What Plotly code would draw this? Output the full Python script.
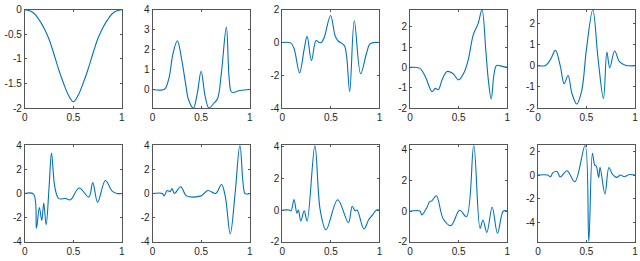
import plotly.graph_objects as go

# ---- data (control points, drawn with spline lines) ----
x1 = [0, 0.05, 0.1, 0.15, 0.2, 0.25, 0.3, 0.35, 0.4, 0.45, 0.5, 0.55, 0.6, 0.65, 0.7, 0.75, 0.8, 0.85, 0.9, 0.95, 1]
y1 = [0, -0.02, -0.08, -0.21, -0.38, -0.6, -0.9, -1.22, -1.5, -1.74, -1.87, -1.74, -1.5, -1.22, -0.9, -0.6, -0.38, -0.21, -0.08, -0.02, 0]

x2 = [0, 0.1, 0.13, 0.17, 0.21, 0.255, 0.3, 0.34, 0.37, 0.42, 0.46, 0.5, 0.54, 0.58, 0.63, 0.67, 0.71, 0.76, 0.79, 0.815, 0.9, 1]
y2 = [0, -0.02, 0.05, 0.6, 1.8, 2.45, 1.5, 0.3, -0.5, -0.93, -0.2, 0.92, -0.3, -0.93, -0.7, -0.45, 0.9, 3.13, 0.5, -0.13, -0.05, 0]

x3 = [0, 0.085, 0.12, 0.177, 0.225, 0.255, 0.3, 0.347, 0.38, 0.4, 0.43, 0.497, 0.544, 0.578, 0.612, 0.64, 0.663, 0.694, 0.741, 0.806, 0.867, 0.9, 0.94, 1]
y3 = [0, -0.02, -0.35, -1.85, -0.4, 0.38, -1.1, 0.12, 0.0, 0.0, 0.3, 1.65, 0.4, 0.08, -0.05, -0.2, -0.9, -3.0, 1.33, -1.9, -0.65, -0.1, 0, 0]

x4 = [0, 0.1, 0.16, 0.225, 0.26, 0.29, 0.33, 0.38, 0.44, 0.5, 0.56, 0.6, 0.65, 0.7, 0.74, 0.78, 0.805, 0.835, 0.865, 0.89, 0.95, 1]
y4 = [0, -0.05, -0.5, -1.19, -1.03, -1.1, -0.6, -0.2, -0.3, -0.61, -0.2, 0.4, 1.6, 2.15, 2.83, 0.8, -0.6, -1.55, -0.3, 0.09, 0.05, 0]

x5 = [0, 0.08, 0.13, 0.18, 0.23, 0.27, 0.31, 0.35, 0.4, 0.45, 0.5, 0.565, 0.62, 0.675, 0.71, 0.74, 0.79, 0.84, 0.9, 1]
y5 = [0, 0.02, 0.3, 0.73, 0.0, -0.85, -0.46, -1.3, -1.81, -1.2, 0.8, 2.65, 0.3, -1.55, 0.65, -0.1, 0.7, 0.2, 0.03, 0]

x6 = [0, 0.09, 0.12, 0.15, 0.175, 0.195, 0.22, 0.25, 0.275, 0.31, 0.35, 0.42, 0.47, 0.56, 0.66, 0.7, 0.75, 0.83, 0.9, 0.95, 1]
y6 = [0, -0.05, -2.88, -1.17, -2.24, -0.8, -2.6, 0.5, 3.36, 0.5, -0.43, -0.42, -0.53, 0.45, -0.3, 0.9, -0.72, 1.07, 0.2, 0, 0]

x7 = [0, 0.1, 0.12, 0.15, 0.18, 0.2, 0.225, 0.29, 0.35, 0.5, 0.57, 0.65, 0.71, 0.75, 0.8, 0.85, 0.9, 0.95, 0.97, 1]
y7 = [0, 0, -0.2, 0.25, 0.15, 0.4, 0.0, 0.56, -0.2, -0.2, 0.25, 0.0, 0.75, -0.3, -3.36, 0.0, 4.0, 0.0, -0.05, 0]

x8 = [0, 0.07, 0.09, 0.12, 0.15, 0.165, 0.19, 0.225, 0.255, 0.335, 0.39, 0.45, 0.57, 0.68, 0.72, 0.75, 0.77, 0.84, 0.89, 0.93, 0.97, 1]
y8 = [0, 0, -0.05, 0.67, -0.2, 0.0, -0.69, -0.05, -0.7, 4.08, 0.0, -1.25, 0.65, -0.8, 0.24, -0.05, 0.0, -1.2, -0.6, -0.3, 0, 0]

x9 = [0, 0.1, 0.12, 0.17, 0.2, 0.22, 0.27, 0.34, 0.42, 0.51, 0.58, 0.655, 0.72, 0.75, 0.79, 0.845, 0.9, 0.96, 1]
y9 = [0, 0, -0.25, 0.2, 0.62, 0.65, 1.0, -0.5, -0.95, 0.05, -0.37, 4.3, -1.14, -0.58, -1.4, 0.25, -1.45, 0, 0]

x10 = [0, 0.1, 0.13, 0.153, 0.197, 0.23, 0.3, 0.38, 0.486, 0.524, 0.561, 0.585, 0.6, 0.626, 0.64, 0.69, 0.731, 0.765, 0.81, 0.85, 0.89, 0.935, 1]
y10 = [0, 0, -0.15, 0.18, 0.3, -0.17, 0.36, -0.57, 2.5, -5.6, 1.83, 0.83, 0.76, -0.2, 0.66, -1.6, 0.63, 0.1, -0.2, 0.0, -0.15, 0.03, 0]

xs = [x1, x2, x3, x4, x5, x6, x7, x8, x9, x10]
ys = [y1, y2, y3, y4, y5, y6, y7, y8, y9, y10]

y_ranges = [[-2, 0], [-0.93, 4], [-4, 2], [-2, 2.83], [-2, 2.65],
            [-4, 4], [-4, 4], [-2, 4.1], [-2, 4.3], [-5.6, 2.5]]
y_ticks = [[-2, -1.5, -1, -0.5, 0], [0, 1, 2, 3, 4], [-4, -2, 0, 2], [-2, -1, 0, 1, 2], [-2, -1, 0, 1, 2],
           [-4, -2, 0, 2, 4], [-4, -2, 0, 2, 4], [-2, 0, 2, 4], [-2, 0, 2, 4], [-4, -2, 0, 2]]
x_ticks = [0, 0.5, 1]
x_ticklabels = ["0", "0.5", "1"]

W, H = 640, 261
col_left = [22, 151, 282, 411, 540]
col_width = 98
row_top = [4, 146]
row_bottom = [107, 247]

fig = go.Figure()
axis_color = "#262626"
layout = dict(
    width=W, height=H, margin=dict(l=0, r=0, t=0, b=0),
    paper_bgcolor="white", plot_bgcolor="white", showlegend=False,
    font=dict(family="Liberation Sans, Arial, sans-serif", size=10, color=axis_color),
)

for i in range(10):
    r, c = divmod(i, 5)
    n = i + 1
    xa = "x" if n == 1 else f"x{n}"
    ya = "y" if n == 1 else f"y{n}"
    fig.add_trace(go.Scatter(x=xs[i], y=ys[i], mode="lines", xaxis=xa, yaxis=ya,
                             line=dict(color="#0072BD", width=1.1, shape="spline", smoothing=1.0),
                             cliponaxis=True, hoverinfo="skip"))
    xd = [col_left[c] / W, (col_left[c] + col_width) / W]
    yd = [(H - row_bottom[r]) / H, (H - row_top[r]) / H]
    common = dict(showgrid=False, zeroline=False, showline=True, linecolor="#555555", linewidth=1,
                  mirror="ticks", ticks="inside", ticklen=2, tickcolor="#555555",
                  tickfont=dict(size=10, color=axis_color))
    layout["xaxis" if n == 1 else f"xaxis{n}"] = dict(
        domain=xd, range=[0, 1], tickvals=x_ticks, ticktext=x_ticklabels,
        anchor=ya, **common)
    layout["yaxis" if n == 1 else f"yaxis{n}"] = dict(
        domain=yd, range=y_ranges[i], tickvals=y_ticks[i],
        ticktext=[("%g" % v) for v in y_ticks[i]], anchor=xa, **common)

fig.update_layout(**layout)
fig.write_html("out.html", config={"displayModeBar": False},
               post_script="document.body.style.margin='0';document.body.style.padding='0';")
